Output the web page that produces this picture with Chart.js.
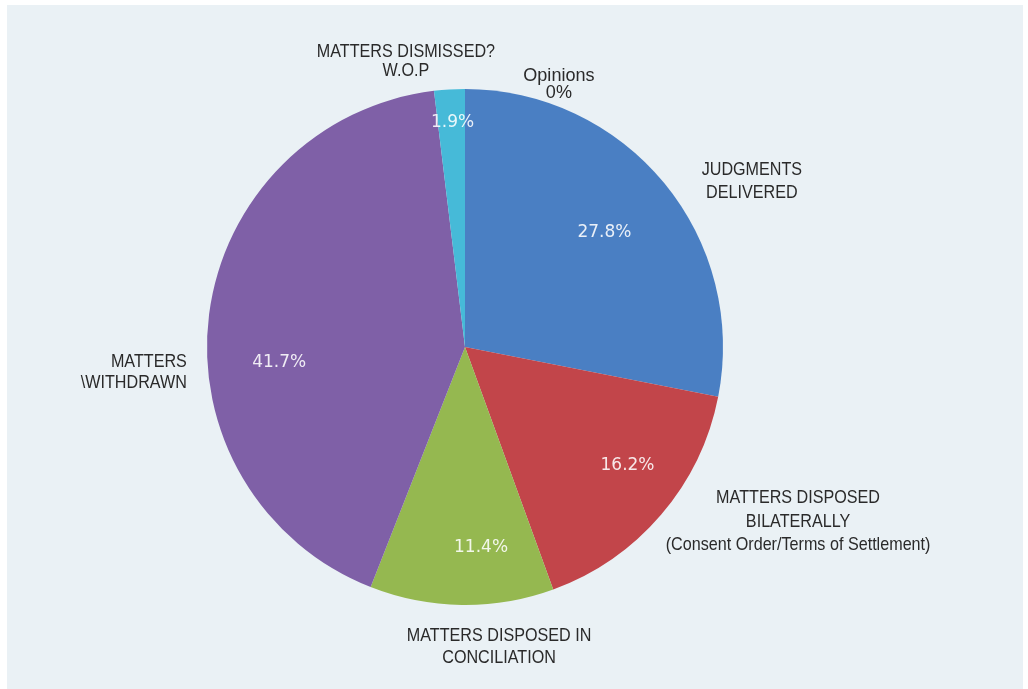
<!DOCTYPE html>
<html>
<head>
<meta charset="utf-8">
<script src="https://cdn.jsdelivr.net/npm/chart.js@4.4.0/dist/chart.umd.min.js"></script>
<style>
    html, body { margin: 0; padding: 0; background: #fff; overflow: hidden; }
    #wrap { width: 1028px; height: 689px; position: relative; }
</style>
</head>
<body>
<div id="wrap"><canvas id="pie"></canvas></div>
<script>
// data (clockwise from 12 o'clock)
const categories = ['JUDGMENTS DELIVERED', 'MATTERS DISPOSED BILATERALLY', 'MATTERS DISPOSED IN CONCILIATION',
    'MATTERS \\WITHDRAWN', 'MATTERS DISMISSED? W.O.P', 'Opinions'];
const shares = [27.8, 16.2, 11.4, 41.7, 1.9, 0];
const sliceColors = ['#4a7fc3', '#c2454a', '#95b850', '#7f60a7', '#46bad8', '#888888'];

// text of the labels placed outside the pie
const labelLines = [
    ['JUDGMENTS', 'DELIVERED'],
    ['MATTERS DISPOSED', 'BILATERALLY', '(Consent Order/Terms of Settlement)'],
    ['MATTERS DISPOSED IN', 'CONCILIATION'],
    ['MATTERS', '\\WITHDRAWN'],
    ['MATTERS DISMISSED?', 'W.O.P'],
    ['Opinions']
];

// where the labels sit, in units of the pie radius from its centre
const outerPos = [
    { dx: 1.112, dy: -0.686, lh: 23, align: 'center', sx: 0.85 },
    { dx: 1.291, dy: 0.585, lh: 23.5, align: 'center', sx: 0.85 },
    { dx: 0.132, dy: 1.120, lh: 22, align: 'center', sx: 0.85 },
    { dx: -1.078, dy: 0.058, lh: 21, align: 'right', sx: 0.85 },
    { dx: -0.229, dy: -1.145, lh: 19, align: 'center', sx: 0.85 },
    { dx: 0.364, dy: -1.050, lh: 16.5, align: 'center', sx: 0.95 }
];
// percentage labels: distance from centre (x radius) and a small turn off the mid-angle (deg)
const insideFrac = [0.70, 0.78, 0.78, 0.723, 0.87, 0];
const insideTurn = [0, -4.4, -5.3, -12.2, 0.3, 0];

function fmtPct(v) {
    return v === 0 ? '0%' : v.toFixed(1) + '%';
}

const backdrop = {
    id: 'backdrop',
    beforeDraw(chart) {
        const ctx = chart.ctx;
        ctx.save();
        ctx.fillStyle = '#ffffff';
        ctx.fillRect(0, 0, chart.width, chart.height);
        ctx.fillStyle = '#eaf1f5';
        ctx.fillRect(7, 5, chart.width - 12, chart.height - 5);
        ctx.restore();
    }
};

const sliceLabels = {
    id: 'sliceLabels',
    afterDatasetsDraw(chart) {
        const ctx = chart.ctx;
        const meta = chart.getDatasetMeta(0);
        meta.data.forEach((arc, i) => {
            const p = arc.getProps(['x', 'y', 'startAngle', 'endAngle', 'outerRadius'], true);
            const mid = (p.startAngle + p.endAngle) / 2 + insideTurn[i] * Math.PI / 180;

            // percentage inside the slice
            if (shares[i] > 0) {
                const r = p.outerRadius * insideFrac[i];
                ctx.save();
                ctx.font = '17px "DejaVu Sans"';
                ctx.fillStyle = 'rgba(255,255,255,0.88)';
                ctx.textAlign = 'center';
                ctx.textBaseline = 'middle';
                ctx.fillText(fmtPct(shares[i]), p.x + Math.cos(mid) * r, p.y + Math.sin(mid) * r);
                ctx.restore();
            }

            // category text outside
            const pos = outerPos[i];
            const lines = labelLines[i].slice();
            if (shares[i] === 0) lines.push(fmtPct(shares[i]));
            lines.forEach((t, k) => {
                ctx.save();
                ctx.translate(p.x + pos.dx * p.outerRadius, p.y + pos.dy * p.outerRadius + k * pos.lh);
                ctx.scale(pos.sx, 1);
                ctx.font = '19px "Liberation Sans", Arial, sans-serif';
                ctx.fillStyle = '#2a2a2a';
                ctx.textAlign = pos.align;
                ctx.textBaseline = 'middle';
                ctx.fillText(t, 0, 0);
                ctx.restore();
            });
        });
    }
};

const ctx = document.getElementById('pie').getContext('2d');
const chart = new Chart(ctx, {
    type: 'pie',
    data: {
        labels: categories,
        datasets: [{
            data: shares,
            backgroundColor: sliceColors,
            borderWidth: 0
        }]
    },
    options: {
        responsive: true,
        maintainAspectRatio: false,
        animation: false,
        layout: {
            padding: { left: 207, right: 305, top: 89, bottom: 84 }
        },
        plugins: {
            legend: { display: false },
            tooltip: { enabled: false }
        }
    },
    plugins: [backdrop, sliceLabels]
});
</script>
</body>
</html>
